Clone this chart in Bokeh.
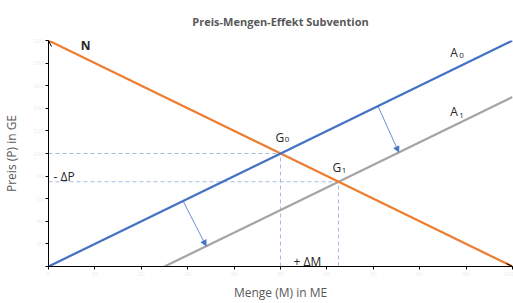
from bokeh.plotting import figure
from bokeh.models import Range1d, Arrow, OpenHead, NormalHead, FixedTicker
from bokeh.core.properties import value
from bokeh.embed import file_html
from bokeh.resources import INLINE

# ---- data ----
x_ticks = [0, 10, 20, 30, 40, 50, 60, 70, 80, 90, 100]
y_ticks = [0, 20, 40, 60, 80, 100, 120, 140, 160, 180, 200]

demand_m = [0, 100]          # N
demand_p = [200, 0]
supply0_m = [0, 100]         # A0
supply0_p = [0, 200]
supply1_m = [25, 100]        # A1 (after subsidy)
supply1_p = [0, 150]

eq_m = [50, 62.5]            # G0, G1
eq_p = [100, 75]

shift_start_m = [71, 29]
shift_start_p = [142, 58]
shift_end_m = [75.5, 34]
shift_end_p = [101, 18]

ORANGE = "#ED7D31"
BLUE = "#4472C4"
GRAY = "#A5A5A5"
DASH = "#8FAADC"
TXT = "#262626"
FONT = "Open Sans"

p = figure(width=513, height=303, output_backend="svg", toolbar_location=None,
           x_range=Range1d(0, 100), y_range=Range1d(0, 200),
           min_border_left=48, min_border_right=1, min_border_top=40, min_border_bottom=35,
           title="Preis-Mengen-Effekt Subvention")
p.outline_line_color = None
p.xgrid.visible = False
p.ygrid.visible = False

p.title.align = "center"
p.title.text_font = FONT
p.title.text_font_size = "11px"
p.title.text_font_style = "bold"
p.title.text_color = "#595959"
p.title.standoff = 23

for ax, ticks in ((p.xaxis[0], x_ticks), (p.yaxis[0], y_ticks)):
    ax.ticker = FixedTicker(ticks=ticks)
    ax.axis_line_color = "#000000"
    ax.axis_line_width = 1
    ax.major_tick_line_color = "#000000"
    ax.major_tick_in = 0
    ax.major_tick_out = 3
    ax.minor_tick_line_color = None
    ax.major_label_text_color = "#eeeeee"
    ax.major_label_text_font_size = "6px"
    ax.major_label_standoff = 2
    ax.axis_label_text_font = FONT
    ax.axis_label_text_font_size = "12px"
    ax.axis_label_text_font_style = "normal"
    ax.axis_label_text_color = "#595959"

p.xaxis.axis_label = "Menge (M) in ME"
p.yaxis.axis_label = "Preis (P) in GE"
p.xaxis.axis_label_standoff = 5
p.yaxis.axis_label_standoff = 10

# dashed helper lines
for m, pr in zip(eq_m, eq_p):
    p.line([0, m], [pr, pr], line_color=DASH, line_width=0.8, line_dash="4 3")
    p.line([m, m], [0, pr], line_color=DASH, line_width=0.8, line_dash="4 3")

# curves
p.line(supply1_m, supply1_p, line_color=GRAY, line_width=2.25)
p.line(demand_m, demand_p, line_color=ORANGE, line_width=2.25)
p.line(supply0_m, supply0_p, line_color=BLUE, line_width=2.25)

# shift arrows
for xs, ys, xe, ye in zip(shift_start_m, shift_start_p, shift_end_m, shift_end_p):
    p.add_layout(Arrow(end=NormalHead(size=6, fill_color=BLUE, line_color=BLUE, line_width=0.5),
                       x_start=xs, y_start=ys, x_end=xe, y_end=ye,
                       line_color=BLUE, line_width=0.8))

# axis arrow heads
p.add_layout(Arrow(end=OpenHead(size=6, line_color="#000000", line_width=1),
                   x_start=0, y_start=0, x_end=0, y_end=200, line_color="#000000", line_width=1))
p.add_layout(Arrow(end=OpenHead(size=6, line_color="#000000", line_width=1),
                   x_start=0, y_start=0, x_end=100, y_end=0, line_color="#000000", line_width=1))

# labels
def txt(x, y, t, size="12px", style="normal", align="left", baseline="alphabetic"):
    p.text(x=[x], y=[y], text=[t], text_font=value(FONT), text_font_size=size,
           text_font_style=style, text_color=TXT, text_align=align, text_baseline=baseline)

txt(8, 195.5, "N", style="bold", align="center", baseline="middle")
txt(86.6, 189.5, "A")
txt(88.5, 186.5, "0", size="8px")
txt(86.6, 136.8, "A")
txt(88.5, 133.8, "1", size="8px")
txt(48.9, 114.0, "G")
txt(50.9, 112.0, "0", size="8px")
txt(61.2, 87.7, "G")
txt(63.2, 85.0, "1", size="8px")
txt(1.1, 79.8, "- ΔP")
txt(52.8, 4.4, "+ ΔM")

open("out.html", "w").write(file_html(p, INLINE))
